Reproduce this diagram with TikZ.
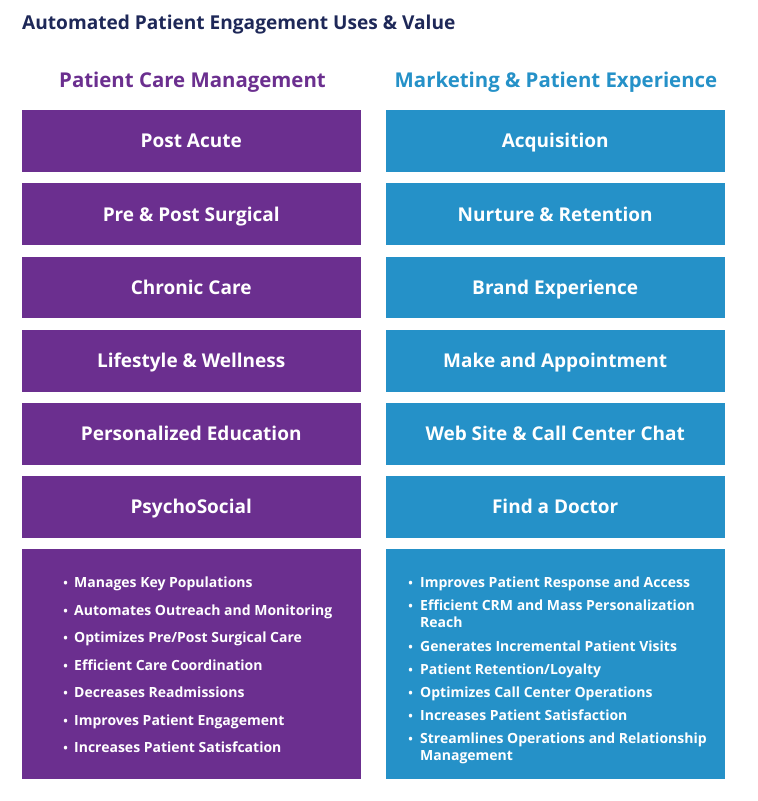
\documentclass[tikz,border=0pt]{standalone}
\usepackage{fontspec}
\setmainfont{Open Sans}
\definecolor{pur}{RGB}{107,47,143}
\definecolor{blu}{RGB}{37,145,200}
\definecolor{navy}{RGB}{30,40,88}
\begin{document}
\begin{tikzpicture}[x=1pt,y=-1pt,
  cell/.style={minimum width=339pt,minimum height=61.7pt,inner sep=0pt,text=white,
    text height=16pt,text depth=2.4pt,
    font=\fontsize{19}{22}\selectfont\bfseries},
  pcell/.style={cell,fill=pur},
  bcell/.style={cell,fill=blu},
  bigbox/.style={minimum width=339pt,minimum height=230pt,inner sep=0pt},
  hdr/.style={anchor=base,font=\fontsize{20.4}{24}\selectfont\bfseries},
  bl/.style={anchor=base west,inner sep=0pt,text=white,font=\fontsize{14}{17}\selectfont\bfseries},
  dot/.style={anchor=base east,inner sep=0pt,text=white,font=\fontsize{12}{17}\selectfont\bfseries}
]
\useasboundingbox (0,0) rectangle (758,801);
\node[anchor=base west,inner sep=0pt,text=navy,font=\fontsize{19.1}{22}\selectfont\bfseries] (title) at (22,29) {Automated Patient Engagement Uses \& Value};
\node[hdr,text=pur] (h1) at (192.5,87) {Patient Care Management};
\node[hdr,text=blu] (h2) at (556,87) {Marketing \& Patient Experience};
% left column
\node[pcell,anchor=north west] (l1) at (21.5,110) {Post Acute};
\node[pcell,anchor=north west] (l2) at (21.5,183.2) {Pre \& Post Surgical};
\node[pcell,anchor=north west] (l3) at (21.5,256.4) {Chronic Care};
\node[pcell,anchor=north west] (l4) at (21.5,329.6) {Lifestyle \& Wellness};
\node[pcell,anchor=north west] (l5) at (21.5,402.8) {Personalized Education};
\node[pcell,anchor=north west] (l6) at (21.5,476) {PsychoSocial};
% right column
\node[bcell,anchor=north west] (r1) at (385.5,110) {Acquisition};
\node[bcell,anchor=north west] (r2) at (385.5,183.2) {Nurture \& Retention};
\node[bcell,anchor=north west] (r3) at (385.5,256.4) {Brand Experience};
\node[bcell,anchor=north west] (r4) at (385.5,329.6) {Make and Appointment};
\node[bcell,anchor=north west] (r5) at (385.5,402.8) {Web Site \& Call Center Chat};
\node[bcell,anchor=north west] (r6) at (385.5,476) {Find a Doctor};
% bottom boxes
\node[bigbox,fill=pur,anchor=north west] (lb) at (21.5,548.3) {};
\node[bigbox,fill=blu,anchor=north west] (rb) at (385.5,548.3) {};
% left bullets
\foreach \t [count=\i] in {Manages Key Populations,Automates Outreach and Monitoring,Optimizes Pre/Post Surgical Care,Efficient Care Coordination,Decreases Readmissions,Improves Patient Engagement,Increases Patient Satisfcation}{
  \node[dot] (ld\i) at (68,{587.5+27.5*(\i-1)}) {•};
  \node[bl] (lt\i) at (74,{587.5+27.5*(\i-1)}) {\t};
}
% right bullets
\node[dot] (rd1) at (413,587.5) {•};
\node[bl] (rt1) at (420,587.5) {Improves Patient Response and Access};
\node[dot] (rd2) at (413,610.5) {•};
\node[bl] (rt2) at (420,610.5) {Efficient CRM and Mass Personalization};
\node[bl] (rt2b) at (420,627.5) {Reach};
\node[dot] (rd3) at (413,651.5) {•};
\node[bl] (rt3) at (420,651.5) {Generates Incremental Patient Visits};
\node[dot] (rd4) at (413,674.5) {•};
\node[bl] (rt4) at (420,674.5) {Patient Retention/Loyalty};
\node[dot] (rd5) at (413,697.5) {•};
\node[bl] (rt5) at (420,697.5) {Optimizes Call Center Operations};
\node[dot] (rd6) at (413,720.5) {•};
\node[bl] (rt6) at (420,720.5) {Increases Patient Satisfaction};
\node[dot] (rd7) at (413,743.5) {•};
\node[bl] (rt7) at (420,743.5) {Streamlines Operations and Relationship};
\node[bl] (rt7b) at (420,760.5) {Management};
\end{tikzpicture}
\end{document}
